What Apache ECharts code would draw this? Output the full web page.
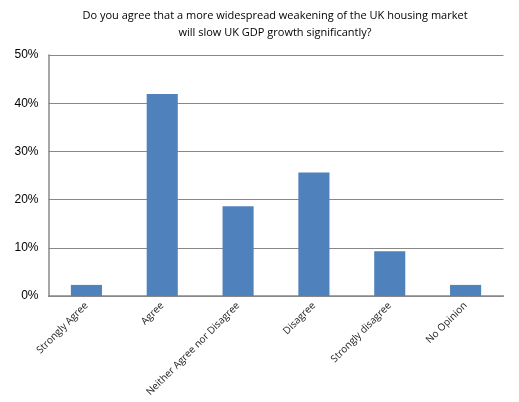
<!DOCTYPE html>
<html>
<head>
<meta charset="utf-8">
<script src="https://cdn.jsdelivr.net/npm/echarts@6/dist/echarts.min.js"></script>
<style>
  html, body { margin: 0; padding: 0; background: #fff; }
  #chartMain { width: 519px; height: 402px; }
</style>
</head>
<body>
<div id="chartMain"></div>
<script>
// answers and their share (%)
var categories = ['Strongly Agree', 'Agree', 'Neither Agree nor Disagree', 'Disagree', 'Strongly disagree', 'No Opinion'];
var shares = [2.3, 41.9, 18.6, 25.6, 9.3, 2.3];
var yTicks = [0, 10, 20, 30, 40, 50];

var myChart = echarts.init(document.getElementById('chartMain'));
var option = {
  animation: false,
  title: {
    text: 'Do you agree that a more widespread weakening of the UK housing market\nwill slow UK GDP growth significantly?',
    left: 270,
    textAlign: 'center',
    top: 2,
    textStyle: {
      fontFamily: 'Open Sans',
      fontSize: 11,
      fontWeight: 'normal',
      color: '#000',
      lineHeight: 17
    }
  },
  grid: {
    left: 48.5,
    right: 15.5,
    top: 55,
    bottom: 106,
    containLabel: false
  },
  xAxis: {
    type: 'category',
    data: categories,
    axisLine: { lineStyle: { color: '#888', width: 1.5 } },
    axisTick: { show: false },
    axisLabel: {
      interval: 0,
      rotate: 45,
      fontFamily: 'Open Sans',
      fontSize: 10,
      color: '#222',
      margin: 8
    }
  },
  yAxis: {
    type: 'value',
    min: yTicks[0],
    max: yTicks[yTicks.length - 1],
    interval: 10,
    axisLine: { show: true, lineStyle: { color: '#888', width: 1.5 } },
    axisTick: { show: false },
    splitLine: { lineStyle: { color: '#888', width: 1.2 } },
    axisLabel: {
      formatter: '{value}%',
      fontFamily: 'Liberation Sans',
      fontSize: 12,
      color: '#000',
      margin: 10
    }
  },
  series: [{
    type: 'bar',
    data: shares,
    barWidth: '41%',
    itemStyle: { color: '#4F81BD' }
  }]
};
myChart.setOption(option, true);
</script>
</body>
</html>
